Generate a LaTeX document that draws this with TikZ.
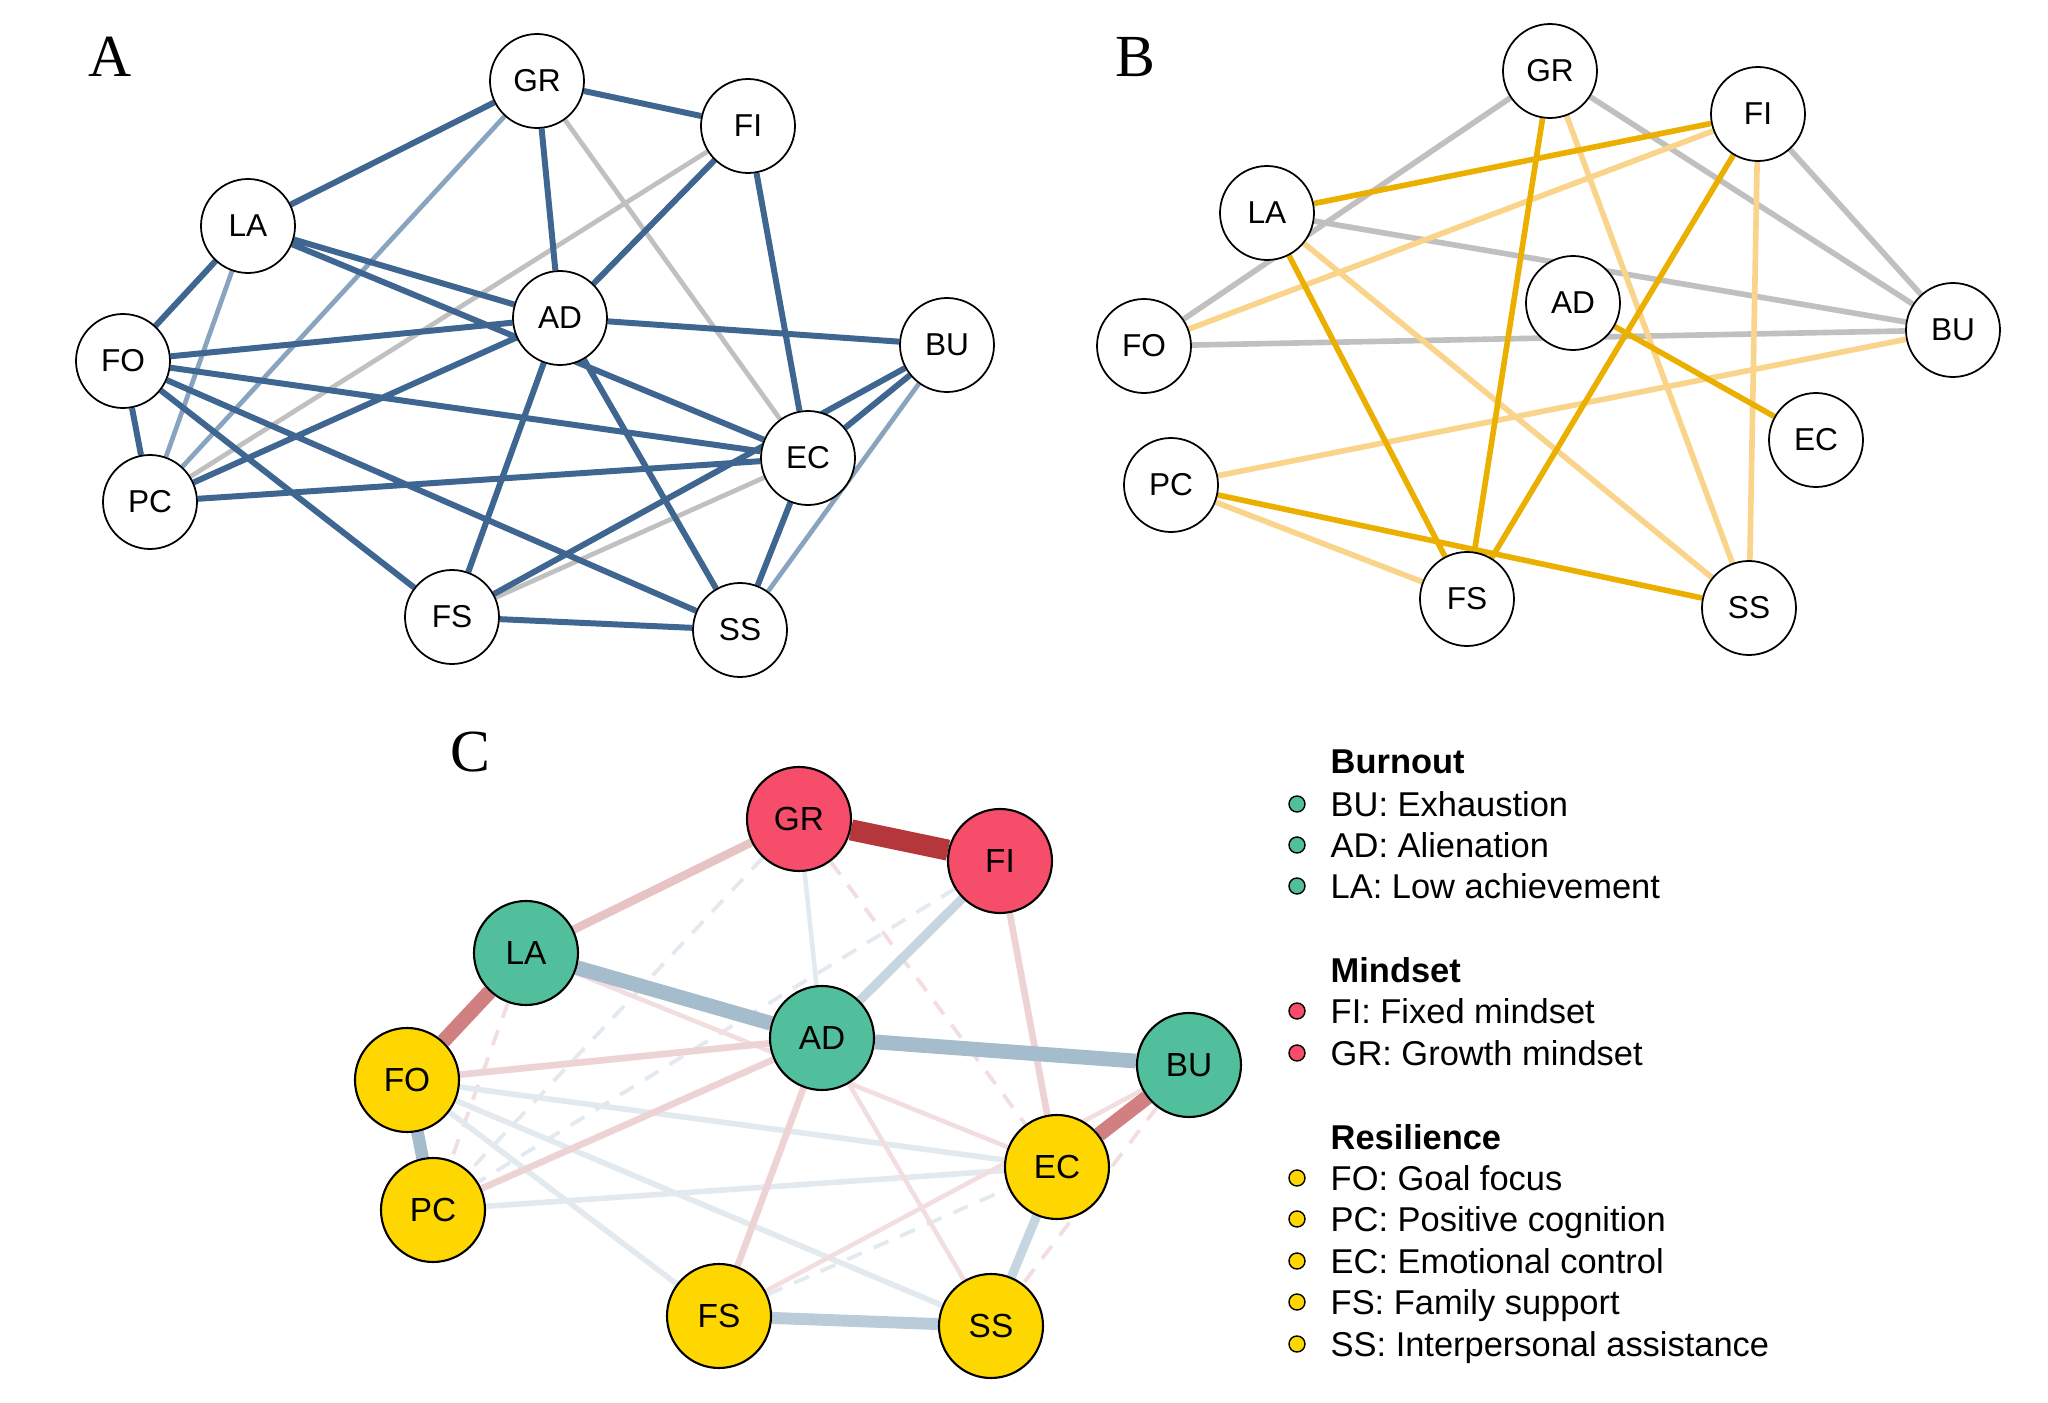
\documentclass[tikz,border=0pt]{standalone}
\usepackage{fontspec}
\setmainfont{Liberation Sans}
\newfontfamily\panelfont{Liberation Serif}
\pgfdeclarelayer{bg}
\pgfsetlayers{bg,main}

% colours
\definecolor{blueA}{RGB}{62,102,144}
\definecolor{paleA}{RGB}{136,164,190}
\definecolor{greyE}{RGB}{192,192,192}
\definecolor{orangeB}{RGB}{235,175,0}
\definecolor{paleB}{RGB}{249,212,138}
\definecolor{burnC}{RGB}{82,191,156}
\definecolor{mindC}{RGB}{245,77,106}
\definecolor{resiC}{RGB}{255,215,0}
\definecolor{posDark}{RGB}{181,55,59}
\definecolor{posMid}{RGB}{209,128,130}
\definecolor{posSoft}{RGB}{232,195,196}
\definecolor{posLight}{RGB}{237,211,212}
\definecolor{posFaint}{RGB}{242,222,223}
\definecolor{negMid}{RGB}{165,188,204}
\definecolor{negSoft}{RGB}{186,204,217}
\definecolor{negLight}{RGB}{198,214,225}
\definecolor{negFaint}{RGB}{226,234,240}

\tikzset{
  nodeAB/.style={circle, draw=black, line width=0.5pt, fill=white, minimum size=0.94cm, inner sep=0pt, font=\fontsize{9}{10}\selectfont},
  nodeC/.style={circle, draw=black, line width=0.6pt, minimum size=1.04cm, inner sep=0pt, font=\fontsize{9.5}{11}\selectfont},
  panel/.style={anchor=base, inner sep=0pt, font=\panelfont\fontsize{17}{20}\selectfont},
  legdot/.style={circle, draw=black, line width=0.4pt, minimum size=0.16cm, inner sep=0pt},
  legtext/.style={anchor=base west, inner sep=0pt, font=\fontsize{9.8}{12}\selectfont},
  leghead/.style={anchor=base west, inner sep=0pt, font=\bfseries\fontsize{9.8}{12}\selectfont},
  dashC/.style={line width=1.1pt, dash pattern=on 0.16cm off 0.13cm},
}

\begin{document}
\begin{tikzpicture}[line cap=round, line join=round]
  \useasboundingbox (0,0) rectangle (20.48,-14.03);

  % Panel A
  \node[panel] (labA) at (1.10,-0.77) {A};
  \node[nodeAB] (aGR) at (5.37,-0.81) {GR};
  \node[nodeAB] (aFI) at (7.48,-1.26) {FI};
  \node[nodeAB] (aLA) at (2.48,-2.26) {LA};
  \node[nodeAB] (aAD) at (5.60,-3.18) {AD};
  \node[nodeAB] (aBU) at (9.47,-3.45) {BU};
  \node[nodeAB] (aFO) at (1.23,-3.61) {FO};
  \node[nodeAB] (aEC) at (8.08,-4.58) {EC};
  \node[nodeAB] (aPC) at (1.50,-5.02) {PC};
  \node[nodeAB] (aFS) at (4.52,-6.17) {FS};
  \node[nodeAB] (aSS) at (7.40,-6.30) {SS};

  \begin{pgfonlayer}{bg}
    \draw[greyE, line width=1.35pt] (aGR) -- (aEC) (aFI) -- (aPC) (aFS) -- (aEC);
    \draw[paleA, line width=1.35pt] (aGR) -- (aPC) (aLA) -- (aPC) (aBU) -- (aSS);
    \draw[blueA, line width=1.7pt]
      (aGR) -- (aFI) (aGR) -- (aLA) (aGR) -- (aAD) (aFI) -- (aAD)
      (aFI) -- (aEC) (aLA) -- (aAD) (aLA) -- (aEC) (aLA) -- (aFO)
      (aFO) -- (aAD) (aAD) -- (aBU) (aFO) -- (aEC) (aFO) -- (aSS)
      (aFO) -- (aFS) (aFO) -- (aPC) (aPC) -- (aAD) (aPC) -- (aEC)
      (aAD) -- (aFS) (aAD) -- (aSS) (aBU) -- (aEC) (aBU) -- (aFS)
      (aEC) -- (aSS) (aFS) -- (aSS);
  \end{pgfonlayer}

  % Panel B
  \node[panel] (labB) at (11.35,-0.77) {B};
  \node[nodeAB] (bGR) at (15.50,-0.71) {GR};
  \node[nodeAB] (bFI) at (17.58,-1.14) {FI};
  \node[nodeAB] (bLA) at (12.67,-2.13) {LA};
  \node[nodeAB] (bAD) at (15.73,-3.03) {AD};
  \node[nodeAB] (bBU) at (19.53,-3.30) {BU};
  \node[nodeAB] (bFO) at (11.44,-3.46) {FO};
  \node[nodeAB] (bEC) at (18.16,-4.40) {EC};
  \node[nodeAB] (bPC) at (11.71,-4.85) {PC};
  \node[nodeAB] (bFS) at (14.67,-5.99) {FS};
  \node[nodeAB] (bSS) at (17.49,-6.08) {SS};

  \begin{pgfonlayer}{bg}
    \draw[greyE, line width=1.6pt]
      (bGR) -- (bFO) (bGR) -- (bBU) (bFI) -- (bBU) (bLA) -- (bBU) (bFO) -- (bBU);
    \draw[paleB, line width=1.6pt]
      (bFO) -- (bFI) (bGR) -- (bSS) (bLA) -- (bSS) (bFI) -- (bSS)
      (bPC) -- (bBU) (bPC) -- (bFS);
    \draw[orangeB, line width=1.6pt]
      (bLA) -- (bFI) (bLA) -- (bFS) (bGR) -- (bFS) (bFI) -- (bFS)
      (bAD) -- (bEC) (bPC) -- (bSS);
  \end{pgfonlayer}

  % Panel C
  \node[panel] (labC) at (4.70,-7.72) {C};
  \node[nodeC, fill=mindC] (cGR) at (7.99,-8.19) {GR};
  \node[nodeC, fill=mindC] (cFI) at (10.00,-8.61) {FI};
  \node[nodeC, fill=burnC] (cLA) at (5.26,-9.53) {LA};
  \node[nodeC, fill=burnC] (cAD) at (8.22,-10.38) {AD};
  \node[nodeC, fill=burnC] (cBU) at (11.89,-10.65) {BU};
  \node[nodeC, fill=resiC] (cFO) at (4.07,-10.80) {FO};
  \node[nodeC, fill=resiC] (cEC) at (10.57,-11.67) {EC};
  \node[nodeC, fill=resiC] (cPC) at (4.33,-12.10) {PC};
  \node[nodeC, fill=resiC] (cFS) at (7.19,-13.16) {FS};
  \node[nodeC, fill=resiC] (cSS) at (9.91,-13.26) {SS};

  \begin{pgfonlayer}{bg}
    % weak ties (dashed)
    \draw[dashC, posFaint] (cGR) -- (cEC) (cLA) -- (cPC) (cBU) -- (cSS);
    \draw[dashC, negFaint] (cFI) -- (cPC) (cGR) -- (cPC) (cFS) -- (cEC);
    % thin ties
    \draw[negFaint, line width=1.3pt] (cGR) -- (cAD);
    \draw[negFaint, line width=1.6pt] (cFO) -- (cEC) (cFO) -- (cFS) (cFO) -- (cSS) (cPC) -- (cEC);
    \draw[posFaint, line width=1.3pt] (cLA) -- (cEC) (cAD) -- (cSS) (cBU) -- (cFS);
    \draw[posLight, line width=1.9pt] (cFO) -- (cAD) (cPC) -- (cAD) (cAD) -- (cFS) (cFI) -- (cEC);
    \draw[posSoft, line width=2.4pt] (cGR) -- (cLA);
    % strong ties
    \draw[negLight, line width=2.6pt] (cFI) -- (cAD) (cEC) -- (cSS);
    \draw[negSoft, line width=3.4pt] (cFS) -- (cSS);
    \draw[negMid, line width=3.6pt] (cFO) -- (cPC);
    \draw[negMid, line width=4.2pt] (cLA) -- (cAD) (cAD) -- (cBU);
    \draw[posMid, line width=4.2pt] (cLA) -- (cFO) (cEC) -- (cBU);
    \draw[posDark, line width=6pt] (cGR) -- (cFI);
  \end{pgfonlayer}

  % Legend
  \node[leghead] (hBurn) at (13.30,-7.735) {Burnout};
  \node[legdot, fill=burnC] (dBU) at (12.97,-8.04) {};
  \node[legtext] (tBU) at (13.30,-8.165) {BU: Exhaustion};
  \node[legdot, fill=burnC] (dAD) at (12.97,-8.45) {};
  \node[legtext] (tAD) at (13.30,-8.575) {AD: Alienation};
  \node[legdot, fill=burnC] (dLA) at (12.97,-8.86) {};
  \node[legtext] (tLA) at (13.30,-8.985) {LA: Low achievement};

  \node[leghead] (hMind) at (13.30,-9.825) {Mindset};
  \node[legdot, fill=mindC] (dFI) at (12.97,-10.11) {};
  \node[legtext] (tFI) at (13.30,-10.235) {FI: Fixed mindset};
  \node[legdot, fill=mindC] (dGR) at (12.97,-10.53) {};
  \node[legtext] (tGR) at (13.30,-10.655) {GR: Growth mindset};

  \node[leghead] (hResi) at (13.30,-11.495) {Resilience};
  \node[legdot, fill=resiC] (dFO) at (12.97,-11.78) {};
  \node[legtext] (tFO) at (13.30,-11.905) {FO: Goal focus};
  \node[legdot, fill=resiC] (dPC) at (12.97,-12.19) {};
  \node[legtext] (tPC) at (13.30,-12.315) {PC: Positive cognition};
  \node[legdot, fill=resiC] (dEC) at (12.97,-12.61) {};
  \node[legtext] (tEC) at (13.30,-12.735) {EC: Emotional control};
  \node[legdot, fill=resiC] (dFS) at (12.97,-13.02) {};
  \node[legtext] (tFS) at (13.30,-13.145) {FS: Family support};
  \node[legdot, fill=resiC] (dSS) at (12.97,-13.44) {};
  \node[legtext] (tSS) at (13.30,-13.565) {SS: Interpersonal assistance};
\end{tikzpicture}
\end{document}
